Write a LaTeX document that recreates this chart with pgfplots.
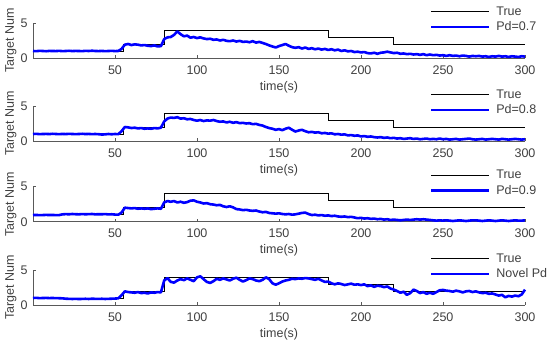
\documentclass[border=0pt]{standalone}
\usepackage{fontspec}
\setmainfont{Liberation Sans}
\usepackage{pgfplots}
\usepackage{pgfplotstable}
\pgfplotsset{compat=1.18}
\definecolor{axgray}{gray}{0.35}
\definecolor{labgray}{gray}{0.25}

\pgfplotstableread{
t x y z w
0 1.00 1.00 0.95 1.00
2 0.98 1.02 0.96 1.02
4 1.02 0.98 0.94 0.98
6 1.00 1.00 0.95 1.00
8 0.97 1.01 0.97 1.01
10 1.01 0.99 0.95 0.99
12 1.00 1.03 0.96 1.00
14 0.99 1.00 0.94 0.98
16 1.02 0.98 0.95 0.97
18 0.98 1.01 1.05 0.95
20 1.00 0.99 1.08 0.90
22 1.03 1.02 1.06 0.88
24 0.99 1.00 1.10 0.86
26 1.01 0.98 1.07 0.88
28 1.00 1.00 1.05 0.85
30 0.98 1.03 1.09 0.87
32 1.02 0.99 1.06 0.89
34 1.00 1.01 1.08 0.86
36 1.04 0.98 1.10 0.90
38 1.00 1.00 1.05 0.88
40 0.99 0.97 1.07 0.87
42 1.01 0.92 1.06 0.89
44 0.98 0.95 1.09 0.86
46 1.00 1.00 1.04 0.88
48 1.02 0.96 1.06 0.90
50 0.99 1.00 1.02 0.92
52 1.00 0.98 1.00 0.95
54 1.30 1.40 1.30 1.40
56 1.90 2.00 2.00 1.95
58 2.00 1.95 1.95 1.85
60 1.85 1.85 1.90 1.80
62 1.95 1.90 1.95 1.75
64 1.90 1.80 1.85 1.85
66 1.80 1.85 1.90 1.70
68 1.85 1.75 1.85 1.75
70 1.75 1.80 1.90 1.65
72 1.70 1.75 1.80 1.80
74 1.80 1.85 1.85 1.75
76 1.65 1.80 1.90 1.85
78 1.70 1.90 1.85 1.80
80 2.70 2.80 2.75 3.50
82 2.95 3.20 2.95 3.85
84 3.00 3.35 2.85 3.30
86 3.30 3.30 2.95 3.20
88 3.80 3.40 2.75 3.50
90 3.40 3.20 2.85 3.70
92 3.10 3.25 2.70 3.55
94 3.20 3.10 2.80 3.80
96 2.90 3.15 3.00 3.60
98 3.00 3.00 3.05 3.40
100 2.85 2.90 2.85 3.95
102 2.95 3.00 2.75 4.10
104 2.80 2.85 2.60 3.70
106 2.70 2.95 2.65 3.30
108 2.75 2.90 2.50 3.15
110 2.60 3.00 2.45 3.40
112 2.65 2.85 2.35 3.75
114 2.50 2.75 2.40 3.60
116 2.60 2.80 2.20 3.80
118 2.45 2.65 2.10 3.65
120 2.40 2.75 2.20 3.50
122 2.50 2.60 2.05 3.75
124 2.35 2.70 1.80 3.90
126 2.45 2.55 1.75 3.60
128 2.30 2.60 1.65 3.35
130 2.35 2.50 1.70 3.55
132 2.25 2.55 1.60 3.80
134 2.40 2.40 1.55 3.70
136 2.20 2.45 1.60 3.50
138 2.30 2.30 1.45 3.40
140 2.15 2.20 1.35 3.60
142 2.00 2.00 1.40 3.95
144 1.80 1.85 1.25 3.70
146 1.65 1.75 1.20 3.10
148 1.50 1.60 1.15 2.90
150 1.70 1.70 1.20 3.10
152 1.85 1.55 1.10 3.35
154 2.00 1.75 1.05 3.50
156 1.75 1.90 1.10 3.60
158 1.55 1.60 1.00 3.75
160 1.45 1.35 1.05 3.70
162 1.55 1.50 1.15 3.80
164 1.35 1.60 1.25 3.75
166 1.50 1.40 1.30 3.85
168 1.30 1.25 1.10 3.80
170 1.40 1.30 0.95 3.70
172 1.25 1.20 1.00 3.60
174 1.35 1.25 0.90 3.75
176 1.20 1.10 0.95 3.50
178 1.30 1.15 0.85 3.30
180 1.15 1.05 0.90 3.35
182 1.25 1.10 0.80 3.10
184 1.10 0.95 0.85 2.95
186 1.20 1.00 0.75 3.10
188 1.00 0.90 0.70 3.00
190 1.10 0.95 0.75 2.85
192 0.95 0.80 0.65 2.95
194 1.00 0.85 0.70 3.05
196 0.85 0.75 0.60 2.90
198 0.90 0.80 0.50 2.95
200 0.80 0.65 0.55 2.85
202 0.85 0.70 0.45 2.95
204 0.70 0.60 0.50 2.70
206 0.65 0.65 0.40 2.80
208 0.75 0.55 0.45 2.60
210 0.60 0.50 0.35 2.75
212 0.75 0.55 0.40 2.70
214 0.80 0.45 0.30 2.55
216 0.90 0.50 0.35 2.65
218 0.80 0.40 0.25 2.35
220 0.70 0.45 0.30 2.20
222 0.75 0.35 0.25 2.00
224 0.60 0.40 0.20 1.75
226 0.65 0.30 0.25 1.90
228 0.55 0.35 0.30 1.45
230 0.60 0.40 0.25 1.70
232 0.50 0.30 0.30 2.20
234 0.55 0.35 0.35 2.00
236 0.45 0.25 0.30 1.70
238 0.55 0.30 0.35 1.85
240 0.40 0.35 0.30 1.60
242 0.50 0.25 0.25 1.75
244 0.40 0.30 0.20 1.60
246 0.45 0.25 0.15 1.85
248 0.35 0.35 0.20 2.10
250 0.40 0.25 0.15 2.15
252 0.30 0.30 0.20 2.05
254 0.40 0.20 0.15 2.00
256 0.30 0.25 0.10 1.90
258 0.35 0.30 0.15 2.05
260 0.25 0.20 0.20 1.95
262 0.35 0.25 0.15 1.80
264 0.30 0.30 0.10 1.95
266 0.20 0.35 0.15 2.00
268 0.30 0.25 0.20 1.85
270 0.25 0.20 0.20 1.95
272 0.30 0.25 0.15 1.80
274 0.20 0.30 0.10 1.70
276 0.25 0.20 0.15 1.75
278 0.15 0.25 0.20 1.60
280 0.25 0.30 0.15 1.65
282 0.20 0.25 0.10 1.50
284 0.30 0.20 0.15 1.35
286 0.20 0.30 0.20 1.45
288 0.25 0.25 0.15 1.10
290 0.15 0.20 0.10 1.30
292 0.25 0.25 0.15 1.20
294 0.20 0.30 0.20 1.35
296 0.15 0.25 0.15 1.25
298 0.25 0.20 0.15 1.50
300 0.20 0.25 0.20 2.20
}\datatable

\pgfplotstableread{
t v
0 1
55 1
55 2
80 2
80 4
180 4
180 3
220 3
220 2
300 2
}\truetable

\newcommand{\lblfont}{\fontsize{12.5}{14}\selectfont}

\pgfplotsset{
  sub/.style={
    width=492pt, height=35pt, scale only axis,
    xmin=0, xmax=300, ymin=0, ymax=5,
    axis x line*=bottom, axis y line*=left,
    xtick={50,100,...,300}, ytick={0,5},
    tick align=inside, major tick length=3pt,
    axis line style={axgray, line width=0.7pt},
    every tick/.style={axgray, line width=0.7pt},
    tick label style={font=\lblfont, text=labgray},
    /pgf/number format/assume math mode=true,
    xticklabel style={yshift=-4pt},
    yticklabel style={xshift=-2pt},
    label style={font=\lblfont, text=labgray},
    xlabel={time(s)}, ylabel={Target Num},
    xlabel style={at={(axis description cs:0.5,-0.83)}, anchor=center},
    ylabel style={at={(axis description cs:-0.045,0.5)}, anchor=center},
    legend style={draw=none, fill=none, font=\lblfont, text=labgray,
      at={(rel axis cs:0.80,1.1)}, anchor=west,
      nodes={inner sep=1pt}, column sep=5pt, row sep=3pt},
    legend cell align=left,
    legend image code/.code={\draw[##1] (0pt,0pt) -- (58pt,0pt);},
    clip=false,
  },
  truestyle/.style={black, line width=0.9pt},
  estyle/.style={blue, line width=2.6pt, line join=round},
}

\begin{document}
\begin{tikzpicture}
\path[use as bounding box] (0,0) rectangle (550pt,-348pt);
\begin{axis}[sub, at={(33pt,-58pt)}, anchor=south west]
\addplot[truestyle] table[x=t,y=v] {\truetable};
\addplot[estyle] table[x=t,y=x] {\datatable};
\legend{True, Pd=0.7}
\end{axis}
\begin{axis}[sub, at={(33pt,-141pt)}, anchor=south west]
\addplot[truestyle] table[x=t,y=v] {\truetable};
\addplot[estyle] table[x=t,y=y] {\datatable};
\legend{True, Pd=0.8}
\end{axis}
\begin{axis}[sub, at={(33pt,-221.7pt)}, anchor=south west]
\addplot[truestyle] table[x=t,y=v] {\truetable};
\addplot[estyle] table[x=t,y=z] {\datatable};
\legend{True, Pd=0.9}
\end{axis}
\begin{axis}[sub, at={(33pt,-305pt)}, anchor=south west]
\addplot[truestyle] table[x=t,y=v] {\truetable};
\addplot[estyle] table[x=t,y=w] {\datatable};
\legend{True, Novel Pd}
\end{axis}
\end{tikzpicture}
\end{document}
